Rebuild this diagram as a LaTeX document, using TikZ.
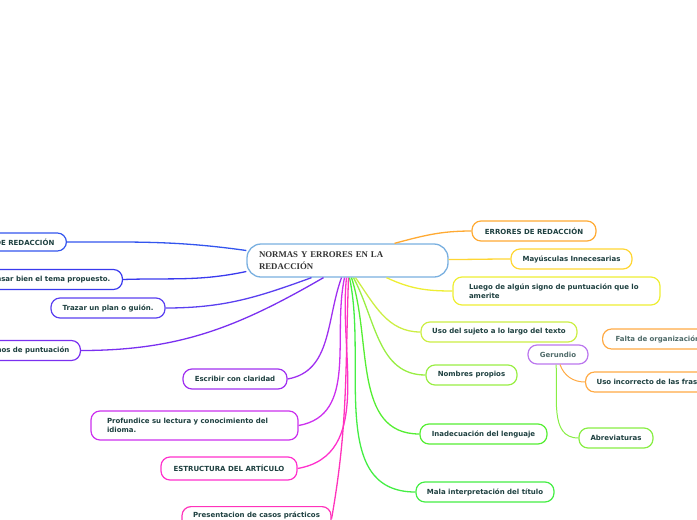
\documentclass[tikz,border=0pt]{standalone}
\usepackage{fontspec}
\setmainfont{DejaVu Sans}
\newfontfamily\titlefont{Liberation Serif}
\definecolor{txt}{HTML}{1E4040}
\definecolor{txtl}{HTML}{4E6A68}
\definecolor{titlegray}{HTML}{333333}
\definecolor{ctrb}{HTML}{7AB0E0}
\definecolor{c1}{HTML}{3355EE}
\definecolor{c2}{HTML}{3A3AEE}
\definecolor{c3}{HTML}{5A40F0}
\definecolor{c4}{HTML}{7A30F0}
\definecolor{c5}{HTML}{A030F0}
\definecolor{c6}{HTML}{CC30EE}
\definecolor{c7}{HTML}{FF30CC}
\definecolor{c8}{HTML}{FF33BB}
\definecolor{c9}{HTML}{FFAA33}
\definecolor{c10}{HTML}{FFD633}
\definecolor{c11}{HTML}{EEEE33}
\definecolor{c12}{HTML}{CCEE44}
\definecolor{c13}{HTML}{99EE44}
\definecolor{c14}{HTML}{55EE33}
\definecolor{c15}{HTML}{44EE44}
\definecolor{cg}{HTML}{BB77EE}
\definecolor{co}{HTML}{FFAA44}
\definecolor{ca}{HTML}{88EE44}
\begin{document}
\begin{tikzpicture}[x=1pt,y=-1pt,
  box/.style={draw, rounded corners=9pt, line width=1.2pt, fill=white, text=txt,
    font=\bfseries\fontsize{7}{8.5}\selectfont, minimum height=20pt, inner sep=0pt},
  conn/.style={line width=1.3pt}]
\useasboundingbox (0,0) rectangle (697,520);
\clip (0,0) rectangle (697,520);

% center
\node[draw=ctrb, line width=1.3pt, rounded corners=14pt, fill=white,
  minimum width=201pt, minimum height=33pt, text width=177pt, align=left,
  inner sep=0pt, font=\titlefont\bfseries\fontsize{8.8}{12}\selectfont,
  text=titlegray] (ctr) at (347.5,260.5) {NORMAS Y ERRORES EN LA\\REDACCIÓN};

% left nodes
\node[box, draw=c1, anchor=east, text width=110pt, align=right, inner xsep=12pt, minimum height=18pt] (n1) at (67,242) {DE REDACCIÓN};
\node[box, draw=c2, anchor=east, text width=170pt, align=right, inner xsep=12pt] (n2) at (123,279.5) {nsar bien el tema propuesto.};
\node[box, draw=c3, minimum width=114pt] (n3) at (108,308) {Trazar un plan o guión.};
\node[box, draw=c4, anchor=east, text width=120pt, align=right, inner xsep=11pt] (n4) at (81,350.5) {nos de puntuación};
\node[box, draw=c5, minimum width=104pt] (n5) at (235,379) {Escribir con claridad};
\node[box, draw=c6, minimum width=207pt, minimum height=29pt, text width=175pt, align=left] (n6) at (194.5,425.5) {Profundice su lectura y conocimiento del\\idioma.};
\node[box, draw=c7, minimum width=136pt, minimum height=23pt] (n7) at (229,468.5) {ESTRUCTURA DEL ARTÍCULO};
\node[box, draw=c8, anchor=north, minimum width=149pt, minimum height=24pt, text depth=8pt] (n8) at (256.5,506) {Presentacion de casos prácticos};

% right nodes
\node[box, draw=c9, minimum width=124pt] (n9) at (534,231) {ERRORES DE REDACCIÓN};
\node[box, draw=c10, minimum width=121pt] (n10) at (571.5,259) {Mayúsculas Innecesarias};
\node[box, draw=c11, minimum width=207pt, minimum height=28pt, text width=175pt, align=left] (n11) at (556.5,291) {Luego de algún signo de puntuación que lo\\amerite};
\node[box, draw=c12, minimum width=156pt] (n12) at (499,332) {Uso del sujeto a lo largo del texto};
\node[box, draw=c13, minimum width=91pt] (n13) at (471.5,375) {Nombres propios};
\node[box, draw=c14, minimum width=127pt] (n14) at (483.5,434) {Inadecuación del lenguaje};
\node[box, draw=c15, minimum width=138pt] (n15) at (485,492) {Mala interpretación del título};
\node[box, draw=cg, text=txtl, minimum width=60pt, minimum height=19pt] (g) at (558,354.5) {Gerundio};
\node[box, draw=co, text=txtl, anchor=west, text width=120pt, align=left, inner xsep=13pt] (f) at (602,339) {Falta de organización};
\node[box, draw=co, anchor=west, text width=130pt, align=left, inner xsep=11pt] (u) at (585,382) {Uso incorrecto de las frases};
\node[box, draw=ca, minimum width=74pt] (a) at (616,438) {Abreviaturas};

% connectors
\draw[conn, c1] ([yshift=10pt]ctr.west) to[out=172,in=0] (n1.east);
\draw[conn, c2] ([yshift=-11pt]ctr.west) to[out=192,in=2] (n2.east);
\draw[conn, c3] ([xshift=-36pt]ctr.south) to[out=200,in=0] (n3.east);
\draw[conn, c4] ([xshift=-24pt]ctr.south) to[out=210,in=0] (n4.east);
\draw[conn, c5] ([xshift=-6pt]ctr.south) to[out=250,in=10] (n5.east);
\draw[conn, c6] ([xshift=-3pt]ctr.south) to[out=258,in=10] (n6.east);
\draw[conn, c7] ([xshift=-1pt]ctr.south) to[out=264,in=10] (n7.east);
\draw[conn, c8] ([xshift=1pt]ctr.south) to[out=268,in=80] (n8.east);
\draw[conn, c9] ([xshift=47pt]ctr.north) to[out=15,in=180] (n9.west);
\draw[conn, c10] ([yshift=1pt]ctr.east) to[out=0,in=180] (n10.west);
\draw[conn, c11] ([xshift=39pt]ctr.south) to[out=-25,in=180] (n11.west);
\draw[conn, c12] ([xshift=8pt]ctr.south) to[out=-55,in=180] (n12.west);
\draw[conn, c13] ([xshift=6pt]ctr.south) to[out=-62,in=180] (n13.west);
\draw[conn, c14] ([xshift=4pt]ctr.south) to[out=-72,in=180] (n14.west);
\draw[conn, c15] ([xshift=2pt]ctr.south) to[out=-78,in=180] (n15.west);
\draw[line width=1pt, co] ([xshift=2pt]g.south) to[out=-70,in=180] (u.west);
\draw[line width=1pt, ca] ([xshift=-2pt]g.south) to[out=-85,in=180] (a.west);
\end{tikzpicture}
\end{document}
